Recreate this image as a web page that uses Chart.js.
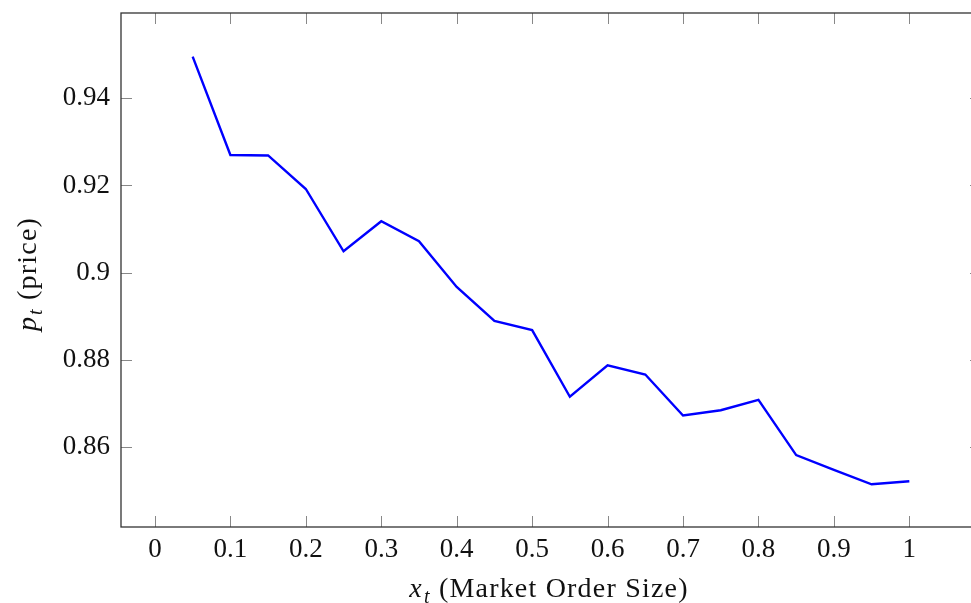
<!DOCTYPE html>
<html>
<head>
<meta charset="utf-8">
<script src="https://cdn.jsdelivr.net/npm/chart.js@4.4.1/dist/chart.umd.min.js"></script>
<style>
  html, body { margin: 0; padding: 0; background: #fff; overflow: hidden; }
  #wrap { width: 990px; height: 603px; }
</style>
</head>
<body>
<div id="wrap"><canvas id="chart" width="990" height="603"></canvas></div>
<script>
// order size on x, price on y
const orderSizes = [0.05, 0.1, 0.15, 0.2, 0.25, 0.3, 0.35, 0.4, 0.45, 0.5,
                    0.55, 0.6, 0.65, 0.7, 0.75, 0.8, 0.85, 0.9, 0.95, 1.0];
const prices = [0.9496, 0.9270, 0.9269, 0.9192, 0.9049, 0.9118, 0.9072, 0.8967, 0.8889, 0.8868,
                0.8715, 0.8787, 0.8766, 0.8672, 0.8684, 0.8708, 0.8581, 0.8547, 0.8514, 0.8521];

const xTickValues = [0, 0.1, 0.2, 0.3, 0.4, 0.5, 0.6, 0.7, 0.8, 0.9, 1];
const xTickLabels = ["0", "0.1", "0.2", "0.3", "0.4", "0.5", "0.6", "0.7", "0.8", "0.9", "1"];
const yTickValues = [0.86, 0.88, 0.9, 0.92, 0.94];
const yTickLabels = ["0.86", "0.88", "0.9", "0.92", "0.94"];

const xTitle = { sym: "x", sub: "t", rest: " (Market Order Size)" };
const yTitle = { sym: "p", sub: "t", rest: " (price)" };

const FONT = "'Liberation Serif', 'Times New Roman', serif";

function drawMathTitle(ctx, t, size) {
  const italic = "italic " + size + "px " + FONT;
  const subFont = "italic " + Math.round(size * 0.7) + "px " + FONT;
  const normal = size + "px " + FONT;
  ctx.letterSpacing = "1.2px";
  ctx.font = italic; const w1 = ctx.measureText(t.sym).width + 1;
  ctx.font = subFont; const w2 = ctx.measureText(t.sub).width;
  ctx.font = normal; const w3 = ctx.measureText(t.rest).width;
  let x = -(w1 + w2 + w3) / 2;
  ctx.textBaseline = "alphabetic";
  ctx.textAlign = "left";
  ctx.font = italic; ctx.fillText(t.sym, x, 0); x += w1;
  ctx.font = subFont; ctx.fillText(t.sub, x, size * 0.2); x += w2;
  ctx.font = normal; ctx.fillText(t.rest, x, 0);
}

const framePlugin = {
  id: "frame",
  afterDraw(chart) {
    const { ctx, chartArea: a, scales } = chart;
    const tl = 11;
    ctx.save();
    ctx.strokeStyle = "#888";
    ctx.lineWidth = 1;
    ctx.beginPath();
    xTickValues.forEach(v => {
      const px = Math.round(scales.x.getPixelForValue(v)) + 0.5;
      ctx.moveTo(px, a.bottom); ctx.lineTo(px, a.bottom - tl);
      ctx.moveTo(px, a.top); ctx.lineTo(px, a.top + tl);
    });
    yTickValues.forEach(v => {
      const py = Math.round(scales.y.getPixelForValue(v)) + 0.5;
      ctx.moveTo(a.left, py); ctx.lineTo(a.left + tl, py);
      ctx.moveTo(a.right, py); ctx.lineTo(a.right - tl, py);
    });
    ctx.stroke();
    ctx.strokeStyle = "#333";
    ctx.lineWidth = 1.3;
    ctx.strokeRect(a.left, a.top, a.right - a.left, a.bottom - a.top);

    ctx.fillStyle = "#111";
    ctx.save();
    ctx.translate((a.left + a.right) / 2 - 2, 597);
    drawMathTitle(ctx, xTitle, 28);
    ctx.restore();
    ctx.save();
    ctx.translate(36, (a.top + a.bottom) / 2 + 4);
    ctx.rotate(-Math.PI / 2);
    drawMathTitle(ctx, yTitle, 28);
    ctx.restore();
    ctx.restore();
  }
};

new Chart(document.getElementById("chart").getContext("2d"), {
  type: "line",
  data: {
    datasets: [{
      data: orderSizes.map((x, i) => ({ x: x, y: prices[i] })),
      borderColor: "#0000ff",
      borderWidth: 2.4,
      pointRadius: 0,
      fill: false,
      tension: 0
    }]
  },
  options: {
    responsive: false,
    animation: false,
    devicePixelRatio: 1,
    layout: { padding: { left: 0, top: 13, right: 9, bottom: 0 } },
    plugins: { legend: { display: false }, tooltip: { enabled: false } },
    scales: {
      x: {
        type: "linear",
        min: -0.045,
        max: 1.095,
        grid: { display: false, drawTicks: false },
        border: { display: false },
        afterBuildTicks: s => { s.ticks = xTickValues.map(v => ({ value: v })); },
        afterFit: s => { s.height = 76; s.paddingLeft = 0; s.paddingRight = 0; },
        ticks: {
          padding: 7,
          color: "#111",
          font: { family: FONT, size: 27 },
          maxRotation: 0,
          callback: (v, i) => xTickLabels[i]
        }
      },
      y: {
        type: "linear",
        min: 0.8416,
        max: 0.9596,
        grid: { display: false, drawTicks: false },
        border: { display: false },
        afterBuildTicks: s => { s.ticks = yTickValues.map(v => ({ value: v })); },
        afterFit: s => { s.width = 121; s.paddingTop = 0; s.paddingBottom = 0; },
        ticks: {
          padding: 11,
          color: "#111",
          font: { family: FONT, size: 27 },
          callback: (v, i) => yTickLabels[i]
        }
      }
    }
  },
  plugins: [framePlugin]
});
</script>
</body>
</html>
